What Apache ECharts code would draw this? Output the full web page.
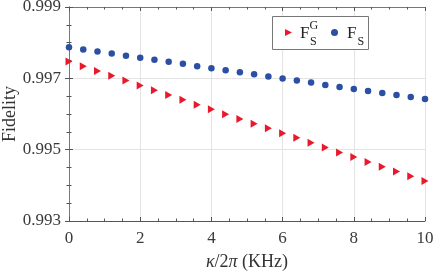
<!DOCTYPE html>
<html><head><meta charset="utf-8">
<script src="https://cdn.jsdelivr.net/npm/echarts@6/dist/echarts.min.js"></script>
<style>html,body{margin:0;padding:0;background:#fff}#c{width:436px;height:271px}</style>
</head><body><div id="c"></div>
<script>
const kappa = [0,0.4,0.8,1.2,1.6,2.0,2.4,2.8,3.2,3.6,4.0,4.4,4.8,5.2,5.6,6.0,6.4,6.8,7.2,7.6,8.0,8.4,8.8,9.2,9.6,10.0];
const fidelityFSG = [0.997471,0.997341,0.997209,0.997069,0.996936,0.996796,0.996667,0.996534,0.996402,0.996262,0.996132,0.995992,0.995860,0.995728,0.995598,0.995460,0.995331,0.995193,0.995064,0.994924,0.994791,0.994651,0.994519,0.994389,0.994257,0.994125];
const fidelityFS = [0.997875,0.997808,0.997752,0.997696,0.997631,0.997575,0.997518,0.997462,0.997406,0.997341,0.997285,0.997229,0.997173,0.997116,0.997049,0.996993,0.996936,0.996880,0.996816,0.996759,0.996703,0.996647,0.996591,0.996534,0.996478,0.996422];
const xRange = [0, 10, 2];
const yRange = [0.993, 0.999, 0.002];
const seriesNames = ['FSG', 'FS'];

const serif = '"Liberation Serif","Times New Roman",serif';
const triPath = 'path://M0,0L10,5L0,10Z';
const chart = echarts.init(document.getElementById('c'), null, {renderer: 'canvas'});

function pairs(ys) { return kappa.map((k, i) => [k, ys[i]]); }

const axisCommon = {
  axisLine: {show: true, lineStyle: {color: '#555', width: 1}},
  axisTick: {show: true, inside: true, length: 4, lineStyle: {color: '#555'}},
  minorTick: {show: true, splitNumber: 4, length: 2.5, lineStyle: {color: '#555'}},
};

function legendAt(left, name, icon) {
  return {
    left: left, top: 29, padding: 0,
    itemWidth: 7, itemHeight: 7, itemGap: 0,
    data: [{name: name, icon: icon}],
    formatter: function () { return ''; },
    textStyle: {fontSize: 1},
    z: 50
  };
}

chart.setOption({
  animation: false,
  backgroundColor: '#fff',
  grid: {left: 69, right: 11, top: 7, bottom: 50, containLabel: false, outerBoundsMode: 'none'},
  legend: [
    legendAt(285, seriesNames[0], triPath),
    legendAt(331, seriesNames[1], 'circle')
  ],
  xAxis: [
    Object.assign({}, axisCommon, {
      type: 'value', min: xRange[0], max: xRange[1], interval: xRange[2],
      name: '{i|κ}/2{i|π} (KHz)', nameLocation: 'middle', nameGap: 32, nameMoveOverlap: false,
      nameTextStyle: {fontFamily: serif, fontSize: 18, color: '#333',
        rich: {i: {fontFamily: serif, fontSize: 18, fontStyle: 'italic', color: '#333'}}},
      axisLabel: {fontFamily: serif, fontSize: 17, color: '#3a3a3a', margin: 9},
      splitLine: {show: true, lineStyle: {color: '#e4e4e4', width: 1}}
    }),
    Object.assign({}, axisCommon, {
      type: 'value', position: 'top', min: xRange[0], max: xRange[1], interval: xRange[2],
      axisLine: {show: true, lineStyle: {color: '#777', width: 1}},
      axisLabel: {show: false}, splitLine: {show: false}
    })
  ],
  yAxis: [
    Object.assign({}, axisCommon, {
      type: 'value', min: yRange[0], max: yRange[1], interval: yRange[2],
      name: 'Fidelity', nameLocation: 'middle', nameGap: 50, nameMoveOverlap: false,
      nameTextStyle: {fontFamily: serif, fontSize: 18, color: '#333'},
      axisLabel: {fontFamily: serif, fontSize: 17, color: '#3a3a3a', margin: 8,
        formatter: v => v.toFixed(3)},
      splitLine: {show: true, lineStyle: {color: '#e4e4e4', width: 1}}
    }),
    Object.assign({}, axisCommon, {
      type: 'value', position: 'right', min: yRange[0], max: yRange[1], interval: yRange[2],
      axisLine: {show: true, lineStyle: {color: '#777', width: 1}},
      axisLabel: {show: false}, splitLine: {show: false}
    })
  ],
  series: [
    {name: seriesNames[0], type: 'scatter', xAxisIndex: 0, yAxisIndex: 0,
     symbol: triPath, symbolSize: [7, 8], itemStyle: {color: '#e8192c', opacity: 1},
     data: pairs(fidelityFSG)},
    {name: seriesNames[1], type: 'scatter', xAxisIndex: 0, yAxisIndex: 0,
     symbol: 'circle', symbolSize: 6.5, itemStyle: {color: '#2b4fa2', opacity: 1},
     data: pairs(fidelityFS)}
  ],
  graphic: [
    {type: 'rect', z: 40, silent: true, shape: {x: 272.5, y: 16.5, width: 96, height: 33},
     style: {fill: '#fff', stroke: '#777', lineWidth: 1}},
    {type: 'text', z: 100, left: 300, top: 25, silent: true, style: {text: 'F', font: '17px ' + serif, fill: '#222'}},
    {type: 'text', z: 100, left: 309.5, top: 20, silent: true, style: {text: 'G', font: '12px ' + serif, fill: '#222'}},
    {type: 'text', z: 100, left: 310, top: 36, silent: true, style: {text: 'S', font: '12px ' + serif, fill: '#222'}},
    {type: 'text', z: 100, left: 347, top: 25, silent: true, style: {text: 'F', font: '17px ' + serif, fill: '#222'}},
    {type: 'text', z: 100, left: 357.5, top: 36, silent: true, style: {text: 'S', font: '12px ' + serif, fill: '#222'}}
  ]
});
</script></body></html>
